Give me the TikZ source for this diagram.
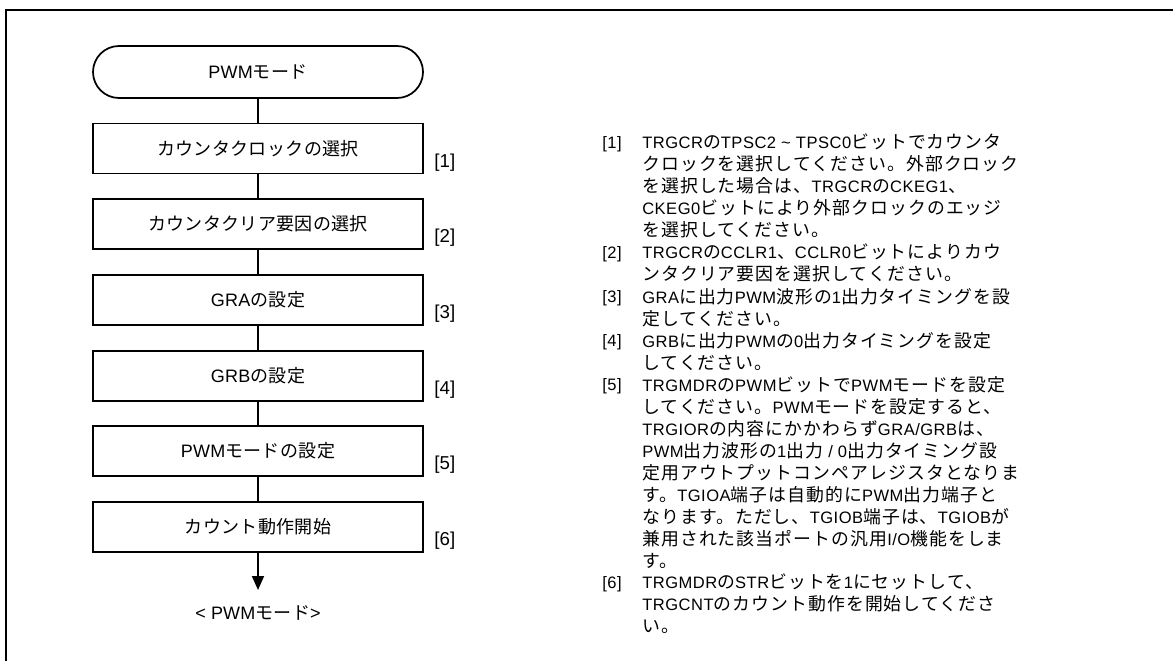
\documentclass[tikz,border=0pt]{standalone}
\usepackage{fontspec}
\setmainfont{Liberation Sans}
\newfontfamily\latA[LetterSpace=3]{Liberation Sans}
\newfontfamily\latB[LetterSpace=1]{Liberation Sans}
\newfontfamily\jpA[LetterSpace=6,Scale=1.08]{Noto Sans CJK JP}
\newfontfamily\jpB[LetterSpace=2]{Noto Sans CJK JP}
\usetikzlibrary{arrows.meta}
\newcount\cjkcc
\def\setcjkclass#1#2{\cjkcc=#1\relax\loop\XeTeXcharclass\cjkcc=1\relax\advance\cjkcc by 1\relax\ifnum\cjkcc<#2\repeat}
\setcjkclass{"3000}{"3100}
\setcjkclass{"4E00}{"A000}
\setcjkclass{"FF00}{"FFF0}
\let\jpsel\jpA
\let\latsel\latA
\XeTeXinterchartoks 0 1 = {\jpsel}
\XeTeXinterchartoks 4095 1 = {\jpsel}
\XeTeXinterchartoks 1 0 = {\latsel}
\XeTeXinterchartoks 4095 0 = {\latsel}
\XeTeXinterchartokenstate=1
\newcommand\boxfont{\let\jpsel\jpB\let\latsel\latB\fontsize{13.5}{16}\selectfont}
\newcommand\labfont{\let\jpsel\jpB\let\latsel\latB\fontsize{14}{16}\selectfont}
\newcommand\rtfont{\let\jpsel\jpA\let\latsel\latA\fontsize{12.4}{16.5}\selectfont}
\newcommand\fs{\rule{0pt}{11pt}}
\begin{document}
\begin{tikzpicture}[x=0.75pt,y=-0.75pt,
  frameline/.style={line width=1.5pt},
  proc/.style={draw, line width=1.3pt, minimum width=247.5pt, minimum height=37.5pt, inner sep=0pt, font=\boxfont},
  term/.style={proc, rounded corners=19.5pt, minimum height=39pt},
  conn/.style={line width=1.3pt},
  steplabel/.style={anchor=west, inner sep=0pt, font=\labfont},
  rt/.style={inner sep=0pt, align=left, font=\rtfont, anchor=north west},
  rn/.style={inner sep=0pt, font=\rtfont, anchor=base west}]
\useasboundingbox (0,0) rectangle (1173,660);
\draw[frameline] (5.5,661) -- (5.5,10) -- (1174,10);
% flowchart
\node[term] (s0) at (258,72) {PWMモード};
\node[proc] (s1) at (258,148.5) {カウンタクロックの選択};
\node[proc] (s2) at (258,224) {カウンタクリア要因の選択};
\node[proc] (s3) at (258,300) {GRAの設定};
\node[proc] (s4) at (258,376) {GRBの設定};
\node[proc] (s5) at (258,451) {PWMモードの設定};
\node[proc] (s6) at (258,527) {カウント動作開始};
\coordinate (tip) at (258,590);
\node[font=\boxfont, inner sep=0pt] (endt) at (258,613) {< PWMモード>};
\draw[conn] (s0) -- (s1);
\draw[conn] (s1) -- (s2);
\draw[conn] (s2) -- (s3);
\draw[conn] (s3) -- (s4);
\draw[conn] (s4) -- (s5);
\draw[conn] (s5) -- (s6);
\draw[conn, -{Triangle[length=10.5pt,width=9pt]}] (s6) -- (tip);
\node[steplabel] (l1) at (434,163) {[1]};
\node[steplabel] (l2) at (434,238) {[2]};
\node[steplabel] (l3) at (434,314) {[3]};
\node[steplabel] (l4) at (434,390) {[4]};
\node[steplabel] (l5) at (434,465) {[5]};
\node[steplabel] (l6) at (434,541) {[6]};
% notes
\node[rn] (n1) at (602,148.5) {[1]};
\node[rt] (t1) at (642,133.83) {\fs TRGCRのTPSC2 \textasciitilde{} TPSC0ビットでカウンタ\\クロックを選択してください。外部クロック\\を選択した場合は、TRGCRのCKEG1、\\CKEG0ビットにより外部クロックのエッジ\\を選択してください。};
\node[rn] (n2) at (602,258.5) {[2]};
\node[rt] (t2) at (642,243.83) {\fs TRGCRのCCLR1、CCLR0ビットによりカウ\\ンタクリア要因を選択してください。};
\node[rn] (n3) at (602,302.5) {[3]};
\node[rt] (t3) at (642,287.83) {\fs GRAに出力PWM波形の1出力タイミングを設\\定してください。};
\node[rn] (n4) at (602,346.5) {[4]};
\node[rt] (t4) at (642,331.83) {\fs GRBに出力PWMの0出力タイミングを設定\\してください。};
\node[rn] (n5) at (602,390.5) {[5]};
\node[rt] (t5) at (642,375.83) {\fs TRGMDRのPWMビットでPWMモードを設定\\してください。PWMモードを設定すると、\\TRGIORの内容にかかわらずGRA/GRBは、\\PWM出力波形の1出力 / 0出力タイミング設\\定用アウトプットコンペアレジスタとなりま\\す。TGIOA端子は自動的にPWM出力端子と\\なります。ただし、TGIOB端子は、TGIOBが\\兼用された該当ポートの汎用I/O機能をしま\\す。};
\node[rn] (n6) at (602,588.5) {[6]};
\node[rt] (t6) at (642,573.83) {\fs TRGMDRのSTRビットを1にセットして、\\TRGCNTのカウント動作を開始してくださ\\い。};
\end{tikzpicture}
\end{document}
